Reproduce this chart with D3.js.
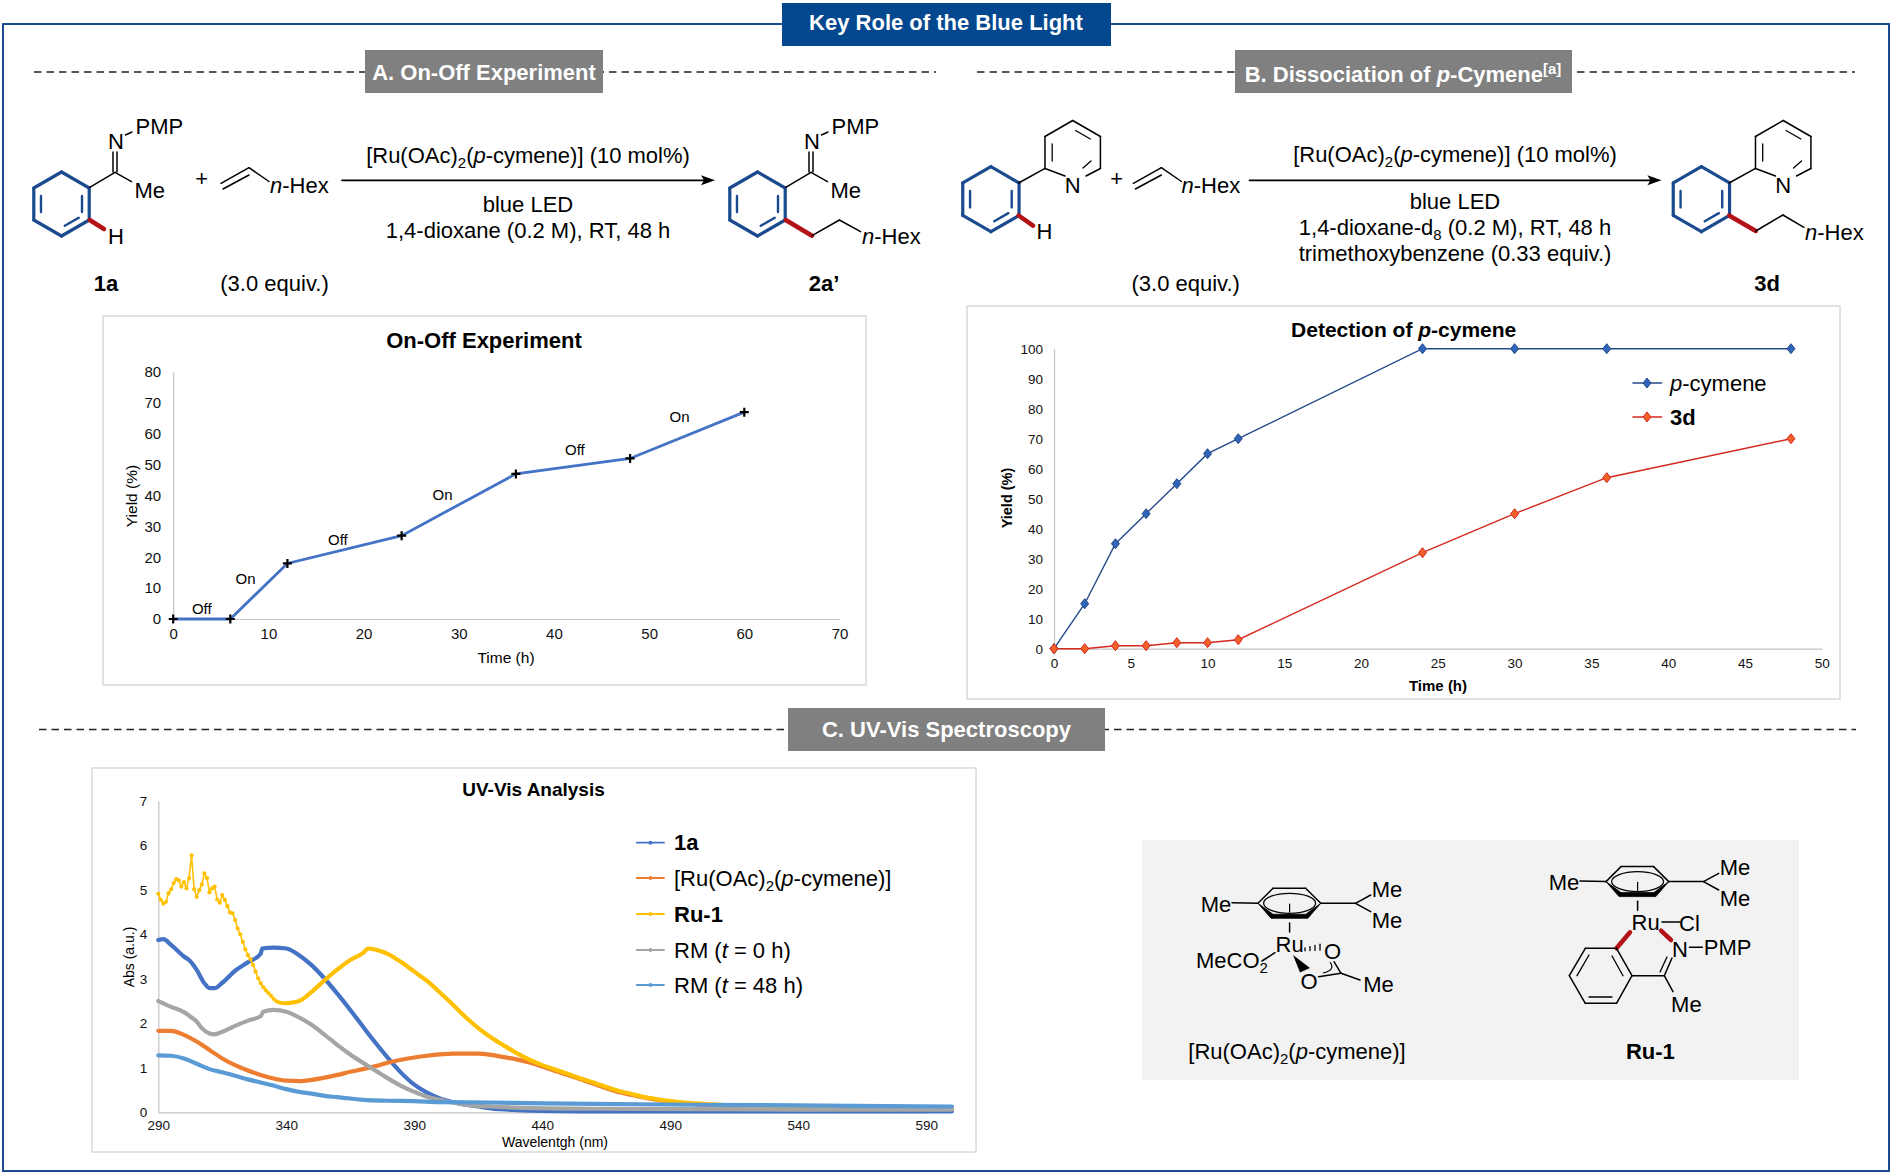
<!DOCTYPE html>
<html><head><meta charset="utf-8"><style>html,body{margin:0;padding:0;background:#fff}svg{display:block}</style>
<script src="https://cdnjs.cloudflare.com/ajax/libs/d3/7.8.5/d3.min.js"></script></head><body><svg id="c" width="1893" height="1175"></svg>
<script>
// ---------- data ----------
const onOffTime=[0,6,12,24,36,48,60];
const onOffYield=[0,0,18,27,47,52,67];
const onOffTicksX=[0,10,20,30,40,50,60,70];
const onOffTicksY=[0,10,20,30,40,50,60,70,80];
const onOffLabels=["Off","On","Off","On","Off","On"];
const onOffLabelT=[3,7.6,17.3,28.3,42.2,53.2];
const onOffLabelY=[3.2,13,25.6,40.2,54.7,65.4];

const detTime=[0,2,4,6,8,10,12,24,30,36,48];
const detCymene=[0,15,35,45,55,65,70,100,100,100,100];
const det3d=[0,0,1,1,2,2,3,32,45,57,70];
const detTicksX=[0,5,10,15,20,25,30,35,40,45,50];
const detTicksY=[0,10,20,30,40,50,60,70,80,90,100];

const uvTicksX=[290,340,390,440,490,540,590];
const uvTicksY=[0,1,2,3,4,5,6,7];
const nm1a=[290,292,295,300,302,305,308,310,312,315,320,325,330,330.6,335,340,345,350,355,360,365,370,375,380,385,390,395,400,405,410,415,420,430,440,460,500,550,600];
const abs1a=[3.87,3.89,3.76,3.5,3.42,3.2,2.9,2.79,2.79,2.91,3.18,3.37,3.56,3.68,3.7,3.68,3.53,3.3,3,2.66,2.3,1.92,1.55,1.2,.88,.62,.44,.31,.23,.17,.13,.09,.05,.03,.02,.02,.02,.02];
const nmRu=[290,295,300,305,310,315,320,325,330,335,340,345,350,355,360,365,370,375,380,385,390,395,400,405,410,415,420,425,430,435,440,445,450,455,460,465,470,475,480,485,490,495,500,510,520,550,600];
const absRu=[1.83,1.83,1.74,1.59,1.4,1.21,1.06,.94,.84,.76,.71,.7,.73,.78,.84,.91,.97,1.04,1.12,1.18,1.23,1.27,1.3,1.32,1.32,1.32,1.29,1.24,1.19,1.12,1.03,.93,.84,.74,.64,.54,.45,.39,.33,.28,.24,.21,.18,.15,.13,.1,.08];
const nmYNoisy=[290,291,292,293,294,295,296,297,298,299,300,301,302,303,304,305,306,307,308,309,310,311,312,313,314,315,316,317,318,319,320,321,322,323,324,325,326,327,328,329,330,331,332,333,334,335,336,337,338,339,340];
const absYNoisy=[4.91,4.77,4.69,4.73,4.92,5.01,5.15,5.24,5.21,5.07,5.17,5.03,5.26,5.77,5.01,4.84,4.99,5.12,5.37,5.26,4.94,5.03,5.07,4.78,4.71,4.88,4.77,4.63,4.49,4.47,4.32,4.13,4,3.83,3.66,3.53,3.44,3.31,3.16,3.01,2.9,2.81,2.74,2.68,2.62,2.55,2.5,2.47,2.46,2.45,2.45];
const nmYSmooth=[340,345,350,355,360,365,370,372,375,380,385,390,395,400,405,410,415,420,425,430,435,440,445,450,455,460,465,470,475,480,485,490,495,500,510,520,550,600];
const absYSmooth=[2.45,2.5,2.71,2.97,3.21,3.42,3.58,3.68,3.65,3.55,3.37,3.16,2.95,2.69,2.42,2.14,1.89,1.68,1.5,1.33,1.18,1.06,.96,.86,.76,.67,.57,.48,.41,.34,.29,.25,.22,.2,.17,.14,.11,.09];
const nmT0=[290,295,300,303,305,307,310,312,315,320,325,330,331,335,340,345,350,355,360,365,370,375,380,385,390,395,400,405,410,420,440,460,500,550,600];
const absT0=[2.5,2.37,2.25,2.13,2.04,1.89,1.77,1.75,1.81,1.94,2.06,2.16,2.26,2.3,2.26,2.13,1.96,1.74,1.51,1.3,1.11,.93,.75,.59,.46,.35,.28,.22,.17,.13,.09,.08,.07,.06,.06];
const nmT48=[290,295,300,305,310,315,320,325,330,335,340,345,350,355,360,365,370,380,390,400,420,440,460,500,550,600];
const absT48=[1.28,1.27,1.21,1.09,.97,.9,.82,.74,.67,.6,.52,.46,.42,.37,.34,.31,.28,.26,.25,.23,.22,.2,.19,.17,.15,.13];
const uvLegend=["**1a**","[Ru(OAc)~2~(*p*-cymene)]","**Ru-1**","RM (*t* = 0 h)","RM (*t* = 48 h)"];
const uvColors=["#4472c4","#ed7d31","#ffc000","#a5a5a5","#5b9bd5"];

// ---------- helpers ----------
const svg=d3.select("#c");
const FONT="'Liberation Sans',Arial,sans-serif";
const NAVY="#1b4b8f", RED="#b31217", CS=22;
const root=svg.append("g").attr("font-family",FONT);

function rich(g,str,x,y,size,opt={}){
  const t=g.append("text").attr("x",x).attr("y",y+size*0.35).attr("font-size",size)
    .attr("text-anchor",opt.anchor||"middle").attr("fill",opt.fill||"#000");
  if(opt.weight)t.attr("font-weight",opt.weight);
  if(opt.rotate!=null)t.attr("transform",`rotate(${opt.rotate} ${x} ${y})`);
  const re=/(\*\*.+?\*\*|\*.+?\*|~.+?~|\^.+?\^)/g;
  let pendingDy=0;
  str.split(re).filter(s=>s!=="").forEach(p=>{
    const s=t.append("tspan");
    let dy=pendingDy;pendingDy=0;
    if(p.startsWith("**")){s.attr("font-weight","bold").text(p.slice(2,-2));}
    else if(p.startsWith("*")){s.attr("font-style","italic").text(p.slice(1,-1));}
    else if(p.startsWith("~")){s.attr("font-size",size*.68).text(p.slice(1,-1));dy+=size*.22;pendingDy=-size*.22;}
    else if(p.startsWith("^")){s.attr("font-size",size*.68).text(p.slice(1,-1));dy-=size*.36;pendingDy=size*.36;}
    else s.text(p);
    if(dy)s.attr("dy",dy);
  });
  return t;
}
function seg(g,a,b,w=1.5,c="#000"){g.append("line").attr("x1",a[0]).attr("y1",a[1]).attr("x2",b[0]).attr("y2",b[1]).attr("stroke",c).attr("stroke-width",w).attr("stroke-linecap","round");}
function hex(cx,cy,R){return d3.range(6).map(i=>{const a=-Math.PI/2+i*Math.PI/3;return [cx+R*Math.cos(a),cy+R*Math.sin(a)];});}
function ring(g,cx,cy,R,sides,c,w){
  const v=hex(cx,cy,R);
  v.forEach((p,i)=>seg(g,p,v[(i+1)%6],w,c));
  sides.forEach(i=>{
    const a=v[i],b=v[(i+1)%6],f=.74,s=.16;
    const q=u=>[cx+(u[0]-cx)*f,cy+(u[1]-cy)*f];
    const qa=q(a),qb=q(b);
    seg(g,[qa[0]+(qb[0]-qa[0])*s,qa[1]+(qb[1]-qa[1])*s],[qb[0]+(qa[0]-qb[0])*s,qb[1]+(qa[1]-qb[1])*s],w*.75,c);
  });
}
function axes(g,x,y,tx,ty,fs,dyLabel,rx){
  const ax=d3.axisBottom(x).tickValues(tx).tickSize(0).tickPadding(dyLabel).tickFormat(d3.format("d"));
  const ay=d3.axisLeft(y).tickValues(ty).tickSize(0).tickPadding(rx).tickFormat(d3.format("d"));
  const gx=g.append("g").attr("transform",`translate(0,${y.range()[0]})`).call(ax);
  const gy=g.append("g").attr("transform",`translate(${x.range()[0]},0)`).call(ay);
  [gx,gy].forEach(a=>{a.attr("font-family",FONT).attr("font-size",fs);a.selectAll("text").attr("fill","#111");a.select(".domain").attr("stroke","#c4c4c4").attr("stroke-width",1.2);});
}
function frame(x0,y0,x1,y1){root.append("rect").attr("x",x0).attr("y",y0).attr("width",x1-x0).attr("height",y1-y0).attr("fill","#fff").attr("stroke","#d9d9d9").attr("stroke-width",1.5);}
function dashed(x0,x1,y){root.append("line").attr("x1",x0).attr("x2",x1).attr("y1",y).attr("y2",y).attr("stroke","#222").attr("stroke-width",1.4).attr("stroke-dasharray","7.5 5");}
function box(x0,y0,x1,y1,fill){root.append("rect").attr("x",x0).attr("y",y0).attr("width",x1-x0).attr("height",y1-y0).attr("fill",fill);}

// ---------- frame and headers ----------
root.append("rect").attr("x",3).attr("y",24).attr("width",1886).attr("height",1147).attr("fill","none").attr("stroke",NAVY).attr("stroke-width",2);
box(782,3,1111,46,"#03478f");
rich(root,"Key Role of the Blue Light",946,22.5,22,{fill:"#fff",weight:"bold"});
dashed(34,936,72);dashed(977,1855,72);dashed(39,1856,729.5);
box(365,50,603,93,"#808080");
rich(root,"A. On-Off Experiment",484,72,22,{fill:"#fff",weight:"bold"});
box(1235,50,1572,93,"#808080");
rich(root,"B. Dissociation of *p*-Cymene^[a]^",1403,74,22,{fill:"#fff",weight:"bold"});
box(788,708,1105,751,"#808080");
rich(root,"C. UV-Vis Spectroscopy",946.5,729,22,{fill:"#fff",weight:"bold"});

// ---------- scheme A ----------
const A=root.append("g");
function imine(dx){
  ring(A,61.5+dx,204,32,[1,2,4],NAVY,3.2);
  seg(A,[89.7+dx,187.3],[115+dx,172.3]);seg(A,[115+dx,172.3],[131.5+dx,181.7]);
  seg(A,[113+dx,172],[113+dx,152]);seg(A,[117+dx,172],[117+dx,152]);
  seg(A,[125.5+dx,135],[132+dx,132]);
  rich(A,"N",116+dx,141.7,CS);rich(A,"PMP",159.4+dx,126.7,CS);rich(A,"Me",149.7+dx,190,CS);
}
imine(0);imine(696);
seg(A,[89.7,220],[104,229],4.5,RED);
rich(A,"H",116,236.7,CS);
rich(A,"+",201.8,178,CS);
function alkene(g,o){seg(g,[o,183.3],[o+28,167.7]);seg(g,[o+28,167.7],[o+48,181.5]);seg(g,[o+2,189],[o+28,175]);}
alkene(A,221);
rich(A,"*n*-Hex",270,185,CS,{anchor:"start"});
function arrow(g,x0,x1,y){seg(g,[x0,y],[x1-8,y],1.8);g.append("path").attr("d",`M${x1},${y}L${x1-14},${y-5}L${x1-11},${y}L${x1-14},${y+5}Z`);}
arrow(A,342,715,180.3);
rich(A,"[Ru(OAc)~2~(*p*-cymene)] (10 mol%)",528,155,CS);
rich(A,"blue LED",528,204,CS);
rich(A,"1,4-dioxane (0.2 M), RT, 48 h",528,230,CS);
rich(A,"1a",106,283,CS,{weight:"bold"});
rich(A,"(3.0 equiv.)",274.5,283,CS);
rich(A,"2a’",824,283,CS,{weight:"bold"});
seg(A,[785.7,220],[812,235.7],4.5,RED);seg(A,[812,235.7],[839.4,220]);seg(A,[839.4,220],[860.6,231.7]);
rich(A,"*n*-Hex",862,236.7,CS,{anchor:"start"});

// ---------- scheme B ----------
const B=root.append("g");
function pyrPh(dx){
  ring(B,990.9+dx,199.2,32.5,[1,2,4],NAVY,3.2);
  const v=hex(1072.7+dx,152.5,32);
  seg(B,v[0],v[1]);seg(B,v[1],v[2]);seg(B,v[4],v[5]);seg(B,v[5],v[0]);
  seg(B,v[2],[1086+dx,176]);seg(B,v[4],[1065+dx,176]);
  const q=(p,f=.74)=>[1072.7+dx+(p[0]-1072.7-dx)*f,152.5+(p[1]-152.5)*f];
  const ins=(a,b)=>{const qa=q(a),qb=q(b),s=.14;seg(B,[qa[0]+(qb[0]-qa[0])*s,qa[1]+(qb[1]-qa[1])*s],[qb[0]+(qa[0]-qb[0])*s,qb[1]+(qa[1]-qb[1])*s],1.3);};
  ins(v[0],v[1]);ins(v[4],v[5]);seg(B,[1091+dx,161],[1083+dx,168],1.3);
  seg(B,[1018.6+dx,183],[1045+dx,168.3]);
  rich(B,"N",1072.7+dx,185,CS);
}
pyrPh(0);pyrPh(710.5);
seg(B,[1018.6,215.5],[1033,225.7],4.5,RED);
rich(B,"H",1044.4,231.7,CS);
rich(B,"+",1116.6,178,CS);
alkene(B,1133.4);
rich(B,"*n*-Hex",1181.5,185,CS,{anchor:"start"});
arrow(B,1249.5,1661.4,180.3);
rich(B,"[Ru(OAc)~2~(*p*-cymene)] (10 mol%)",1455,154.5,CS);
rich(B,"blue LED",1455,201.7,CS);
rich(B,"1,4-dioxane-d~8~ (0.2 M), RT, 48 h",1455,227,CS);
rich(B,"trimethoxybenzene (0.33 equiv.)",1455,253,CS);
rich(B,"(3.0 equiv.)",1185.7,283,CS);
rich(B,"3d",1767,283,CS,{weight:"bold"});
seg(B,[1729.1,215.5],[1755.8,231],4.5,RED);seg(B,[1755.8,231],[1782.9,215]);seg(B,[1782.9,215],[1803.9,227.3]);
rich(B,"*n*-Hex",1805,232.7,CS,{anchor:"start"});

// ---------- chart A ----------
frame(103,316,866,685);
const cA=root.append("g");
const xA=d3.scaleLinear().domain([0,70]).range([173.2,839.5]);
const yA=d3.scaleLinear().domain([0,80]).range([619,372]);
axes(cA,xA,yA,onOffTicksX,onOffTicksY,15,9,12);
cA.append("path").datum(onOffTime.map((t,i)=>[t,onOffYield[i]])).attr("fill","none").attr("stroke","#4472c4").attr("stroke-width",2.8)
  .attr("d",d3.line().x(d=>xA(d[0])).y(d=>yA(d[1])));
cA.selectAll("path.m").data(onOffTime.map((t,i)=>[t,onOffYield[i]])).join("path").attr("class","m")
  .attr("transform",d=>`translate(${xA(d[0])},${yA(d[1])})`).attr("d","M-4.5,0H4.5M0,-4.5V4.5").attr("stroke","#000").attr("stroke-width",2.2);
onOffLabels.forEach((s,i)=>rich(cA,s,xA(onOffLabelT[i]),yA(onOffLabelY[i]),15));
rich(cA,"On-Off Experiment",484,340,22,{weight:"bold"});
rich(cA,"Time (h)",506,658,15.5);
rich(cA,"Yield (%)",132,496,15.5,{rotate:-90});

// ---------- chart B ----------
frame(967,306,1840,699);
const cB=root.append("g");
const xB=d3.scaleLinear().domain([0,50]).range([1054,1821.7]);
const yB=d3.scaleLinear().domain([0,100]).range([648.7,348.7]);
axes(cB,xB,yB,detTicksX,detTicksY,13.5,10,11);
function detSeries(vals,line,fill){
  const d=detTime.map((t,i)=>[t,vals[i]]);
  cB.append("path").datum(d).attr("fill","none").attr("stroke",line).attr("stroke-width",1.4)
    .attr("d",d3.line().x(p=>xB(p[0])).y(p=>yB(p[1])));
  cB.selectAll(null).data(d).join("path").attr("transform",p=>`translate(${xB(p[0])},${yB(p[1])})`)
    .attr("d","M0,-5L4,0L0,5L-4,0Z").attr("fill",fill).attr("stroke",line).attr("stroke-width",1);
}
detSeries(detCymene,"#244a8a","#2f64b8");
detSeries(det3d,"#d5281e","#f2602a");
rich(cB,"Detection of *p*-cymene",1403.7,330,21,{weight:"bold"});
rich(cB,"Time (h)",1438,685.7,15,{weight:"bold"});
rich(cB,"Yield (%)",1007,498,14.5,{weight:"bold",rotate:-90});
[["*p*-cymene",383,"#244a8a","#2f64b8",null],["3d",417,"#d5281e","#f2602a","bold"]].forEach(l=>{
  seg(cB,[1633,l[1]],[1661.5,l[1]],1.6,l[2]);
  cB.append("path").attr("transform",`translate(1647,${l[1]})`).attr("d","M0,-5L4,0L0,5L-4,0Z").attr("fill",l[3]).attr("stroke",l[2]);
  rich(cB,l[0],1670,l[1],22,{anchor:"start",weight:l[4]});
});

// ---------- chart C ----------
frame(92,768,976,1152);
const cC=root.append("g");
const xC=d3.scaleLinear().domain([290,590]).range([158.3,926.3]);
const yC=d3.scaleLinear().domain([0,7]).range([1112.3,800.7]);
axes(cC,xC,yC,uvTicksX,uvTicksY,13.5,8,11);
const lineC=d3.line().x(p=>xC(p[0])).y(p=>yC(p[1]));
const zip=(a,b)=>a.map((v,i)=>[v,b[i]]);
function uv(nm,ab,c,w,curve){
  cC.append("path").datum(zip(nm,ab)).attr("fill","none").attr("stroke",c).attr("stroke-width",w).attr("stroke-linejoin","round").attr("stroke-linecap","round")
    .attr("d",lineC.curve(curve||d3.curveMonotoneX));
}
uv(nm1a,abs1a,uvColors[0],4.2);
uv(nmRu,absRu,uvColors[1],4.2);
uv(nmYNoisy,absYNoisy,uvColors[2],1.6,d3.curveLinear);
cC.selectAll(null).data(zip(nmYNoisy,absYNoisy)).join("circle").attr("cx",p=>xC(p[0])).attr("cy",p=>yC(p[1])).attr("r",2.1).attr("fill",uvColors[2]);
uv(nmYSmooth,absYSmooth,uvColors[2],4.2);
uv(nmT0,absT0,uvColors[3],4.2);
uv(nmT48,absT48,uvColors[4],4.2);
rich(cC,"UV-Vis Analysis",533.5,789.5,19,{weight:"bold"});
rich(cC,"Wavelentgh (nm)",555,1142,14);
rich(cC,"Abs (a.u.)",129,957,14,{rotate:-90});
const legY=[842.7,878,914,950,985];
uvLegend.forEach((s,i)=>{
  seg(cC,[636.7,legY[i]],[664,legY[i]],1.8,uvColors[i]);
  cC.append("circle").attr("cx",650.5).attr("cy",legY[i]).attr("r",2).attr("fill",uvColors[i]);
  rich(cC,s,674,legY[i],22,{anchor:"start"});
});

// ---------- grey panel with complexes ----------
box(1142,840,1799,1080,"#f2f2f2");
const P=root.append("g");
function cymene(dx,dy,g,ruDx=0){
  const L=[1258+dx,903.3+dy],UL=[1273+dx,888.3+dy],UR=[1305.6+dx,888.3+dy],R=[1320.8+dx,903.3+dy],LR=[1307.8+dx,918.3+dy],LL=[1271+dx,918.3+dy];
  seg(g,L,UL);seg(g,UL,UR);seg(g,UR,R);
  g.append("path").attr("d",`M${L}L${LL}L${LR}L${R}L${LR[0]-2},${LR[1]-4}L${LL[0]+2},${LL[1]-4}Z`).attr("fill","#000").attr("stroke","#000").attr("stroke-width",.8);
  g.append("ellipse").attr("cx",1289.6+dx).attr("cy",903.3+dy).attr("rx",26).attr("ry",10).attr("fill","none").attr("stroke","#000").attr("stroke-width",1.3);
  seg(g,[1289.6+dx,904+dy],[1289.6+dx,912+dy],1.2);seg(g,[1289.6+dx,923+dy],[1289.6+dx,932+dy]);
  seg(g,[1232+dx,902.7+dy],L);seg(g,R,[1355.5+dx,903.3+dy]);
  seg(g,[1355.5+dx,903.3+dy],[1370.7+dx,895+dy]);seg(g,[1355.5+dx,903.3+dy],[1370.7+dx,911.7+dy]);
  rich(g,"Me",1216+dx,904+dy,CS);rich(g,"Me",1387+dx,889.3+dy,CS);rich(g,"Me",1387+dx,920+dy,CS);
  rich(g,"Ru",1289.6+dx+ruDx,944.3+dy,CS);
}
cymene(0,0,P);
rich(P,"MeCO~2~",1232,960,CS);
seg(P,[1262,961],[1275,952.7]);
d3.range(4).forEach(i=>seg(P,[1305+i*5,949.3-i*.7-1.5-i*.5],[1305+i*5,949.3-i*.7+1.5+i*.5],1.3));
rich(P,"O",1332.5,951.7,CS);rich(P,"O",1309,981.7,CS);
P.append("path").attr("d","M1293,955L1300,972.5L1310,968Z");
seg(P,[1318.6,976.7],[1341,973.3]);seg(P,[1334,961.7],[1341,973.3]);seg(P,[1341,973.3],[1360,980]);
P.append("path").attr("d","M1330,962Q1336,970 1323,973").attr("fill","none").attr("stroke","#000").attr("stroke-width",1.2);
rich(P,"Me",1378.5,984,CS);
rich(P,"[Ru(OAc)~2~(*p*-cymene)]",1297,1051,CS);

cymene(348,-21.7,P,8);
rich(P,"Cl",1689.4,923.3,CS);seg(P,[1662,922],[1680,922]);
seg(P,[1630,932.3],[1616.5,948.3],4.5,RED);seg(P,[1661,930.7],[1671,940],4.5,RED);
rich(P,"N",1680,949.3,CS);seg(P,[1689.4,947.3],[1702.4,947.3]);rich(P,"PMP",1727.6,947.3,CS);
const bz=[[1616.5,948.3],[1632,975.7],[1616.5,1003.3],[1585.3,1003.3],[1569.3,975.7],[1585.3,948.3]];
bz.forEach((p,i)=>seg(P,p,bz[(i+1)%6]));
seg(P,[1612,956],[1623,975.7],1.3);seg(P,[1589,997],[1612,997],1.3);seg(P,[1577,975.7],[1589,955],1.3);
seg(P,[1632,975.7],[1664.3,975.7]);seg(P,[1664.3,975.7],[1672,958]);seg(P,[1660,972],[1667,957],1.3);seg(P,[1664.3,975.7],[1673,991.7]);
rich(P,"Me",1686.4,1004.3,CS);
rich(P,"Ru-1",1650.4,1051,CS,{weight:"bold"});
</script></body></html>
